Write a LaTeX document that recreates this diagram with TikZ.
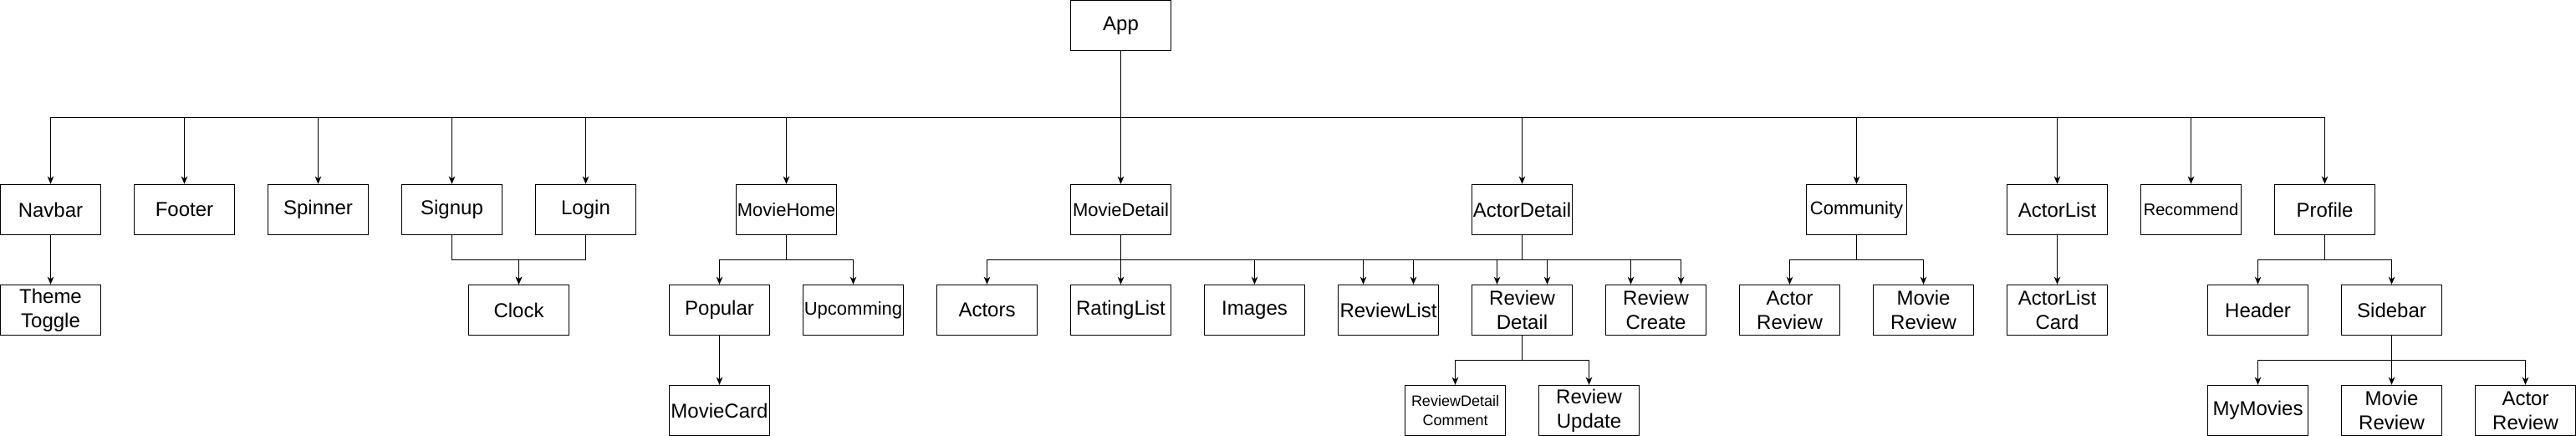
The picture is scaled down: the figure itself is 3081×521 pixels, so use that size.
\documentclass[tikz,border=0pt]{standalone}
\usepackage{fontspec}
\setmainfont{Liberation Sans}
\usepackage{tikz}
\usetikzlibrary{arrows.meta}

\tikzset{
  comp/.style={draw,line width=1.3pt,minimum width=120pt,minimum height=60pt,inner sep=1pt,align=center,font=\fontsize{24}{29}\selectfont},
  mid/.style={font=\fontsize{22}{26}\selectfont},
  link/.style={->,line width=1.3pt},
}

\begin{document}
\begin{tikzpicture}[x=1pt,y=-1pt,>={Stealth[length=9pt,width=7.5pt,inset=2.5pt]}]
\useasboundingbox (-0.5,-0.5) rectangle (3080.5,520.5);
\coordinate (bus0) at (0,140);
\coordinate (bus1) at (0,310);
\coordinate (bus2) at (0,430);

% top
\node[comp] (app) at (1340,30) {App};

% first level
\node[comp] (nav) at (60,250) {Navbar};
\node[comp] (foot) at (220,250) {Footer};
\node[comp] (spin) at (380,250) {Spinner};
\node[comp] (sign) at (540,250) {Signup};
\node[comp] (login) at (700,250) {Login};
\node[comp,mid] (mhome) at (940,250) {MovieHome};
\node[comp,mid] (mdet) at (1340,250) {MovieDetail};
\node[comp] (adet) at (1820,250) {ActorDetail};
\node[comp,mid] (comm) at (2220,250) {Community};
\node[comp] (alist) at (2460,250) {ActorList};
\node[comp,font=\fontsize{20}{24}\selectfont] (rec) at (2620,250) {Recommend};
\node[comp] (prof) at (2780,250) {Profile};

% second level
\node[comp] (theme) at (60,370) {Theme\\Toggle};
\node[comp] (clock) at (620,370) {Clock};
\node[comp] (pop) at (860,370) {Popular};
\node[comp,mid] (upc) at (1020,370) {Upcomming};
\node[comp] (actors) at (1180,370) {Actors};
\node[comp] (rating) at (1340,370) {RatingList};
\node[comp] (images) at (1500,370) {Images};
\node[comp] (rlist) at (1660,370) {ReviewList};
\node[comp] (rdet) at (1820,370) {Review\\Detail};
\node[comp] (rcreate) at (1980,370) {Review\\Create};
\node[comp] (areview) at (2140,370) {Actor\\Review};
\node[comp] (mreview) at (2300,370) {Movie\\Review};
\node[comp] (alcard) at (2460,370) {ActorList\\Card};
\node[comp] (header) at (2700,370) {Header};
\node[comp] (sidebar) at (2860,370) {Sidebar};

% third level
\node[comp] (mcard) at (860,490) {MovieCard};
\node[comp,font=\fontsize{18}{23}\selectfont] (rdcomm) at (1740,490) {ReviewDetail\\Comment};
\node[comp] (rupd) at (1900,490) {Review\\Update};
\node[comp] (mymov) at (2700,490) {MyMovies};
\node[comp] (pmreview) at (2860,490) {Movie\\Review};
\node[comp] (pareview) at (3020,490) {Actor\\Review};

% edges
\foreach \c in {nav,foot,spin,sign,login,mhome,mdet,adet,comm,alist,rec,prof}
  \draw[link] (app.south) -- (app.south |- bus0) -| (\c.north);
\draw[link] (nav.south) -- (theme.north);
\foreach \p in {sign,login}
  \draw[link] (\p.south) -- (\p.south |- bus1) -| (clock.north);
\foreach \c in {pop,upc}
  \draw[link] (mhome.south) -- (mhome.south |- bus1) -| (\c.north);
\draw[link] (pop.south) -- (mcard.north);
\foreach \c in {actors,rating,images}
  \draw[link] (mdet.south) -- (mdet.south |- bus1) -| (\c.north);
\foreach \c in {rlist,rdet,rcreate} {
  \draw[link] (mdet.south) -- (mdet.south |- bus1) -| ([xshift=-30pt]\c.north);
  \draw[link] (adet.south) -- (adet.south |- bus1) -| ([xshift=30pt]\c.north);
}
\foreach \c in {rdcomm,rupd}
  \draw[link] (rdet.south) -- (rdet.south |- bus2) -| (\c.north);
\foreach \c in {areview,mreview}
  \draw[link] (comm.south) -- (comm.south |- bus1) -| (\c.north);
\draw[link] (alist.south) -- (alcard.north);
\foreach \c in {header,sidebar}
  \draw[link] (prof.south) -- (prof.south |- bus1) -| (\c.north);
\foreach \c in {mymov,pmreview,pareview}
  \draw[link] (sidebar.south) -- (sidebar.south |- bus2) -| (\c.north);
\end{tikzpicture}
\end{document}
